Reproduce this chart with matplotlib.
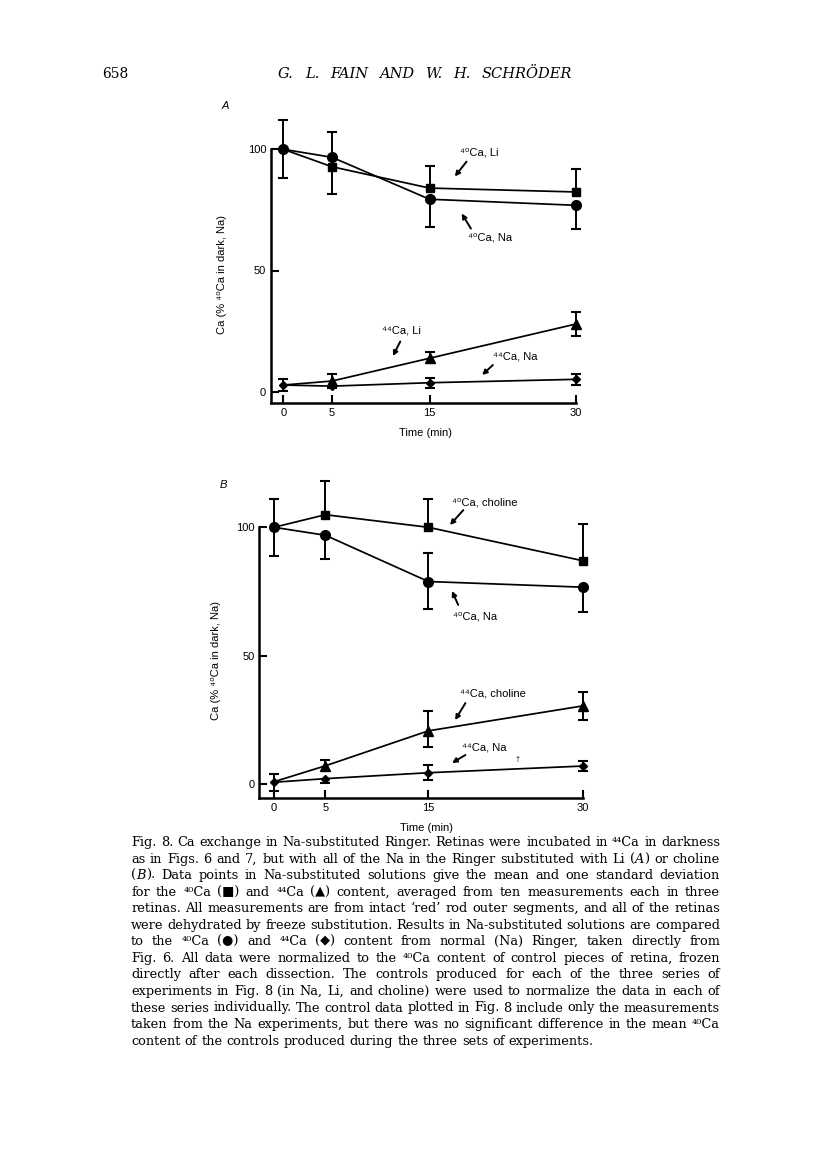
import matplotlib
matplotlib.use('Agg')
import matplotlib.pyplot as plt
import numpy as np

plt.rcParams['font.family'] = ['Liberation Sans', 'DejaVu Sans']

W, H = 816, 1160
SERIF = ['DejaVu Serif']
FS = 8.0

# time points (min)
t = [0, 5, 15, 30]

# panel A: Li substituted
a_ca40_na = [100, 96.7, 79.4, 76.9]
a_ca40_na_lo = [12, 0, 11.3, 9.9]
a_ca40_na_hi = [12, 10.5, 0, 0]
a_ca40_li = [100, 92.8, 84.0, 82.4]
a_ca40_li_lo = [0, 11.2, 0, 0]
a_ca40_li_hi = [0, 0, 9.0, 9.5]
a_ca44_li = [2.75, 4.4, 13.8, 27.9]
a_ca44_li_lo = [0, 0, 0, 4.9]
a_ca44_li_hi = [0, 2.8, 2.4, 5.1]
a_ca44_na = [2.75, 2.3, 3.7, 5.1]
a_ca44_na_lo = [2.3, 0.9, 2.0, 2.2]
a_ca44_na_hi = [2.3, 0, 2.0, 2.2]

# panel B: choline substituted
b_ca40_na = [100, 96.9, 78.9, 76.7]
b_ca40_na_lo = [11, 9.2, 10.8, 9.5]
b_ca40_na_hi = [11, 0, 11, 0]
b_ca40_ch = [100, 104.9, 100, 87.0]
b_ca40_ch_lo = [0, 0, 0, 0]
b_ca40_ch_hi = [0, 13.1, 10.9, 14.3]
b_ca44_ch = [1, 7.2, 20.8, 30.5]
b_ca44_ch_lo = [0, 0, 6.1, 5.5]
b_ca44_ch_hi = [0, 2.2, 7.7, 5.5]
b_ca44_na = [0.8, 2.2, 4.5, 7.1]
b_ca44_na_lo = [3.6, 1.7, 3.0, 2.0]
b_ca44_na_hi = [3.2, 0, 3.0, 2.0]

caption = [
    "Fig. 8. Ca exchange in Na-substituted Ringer. Retinas were incubated in \u2074\u2074Ca in darkness",
    "as in Figs. 6 and 7, but with all of the Na in the Ringer substituted with Li (*A*) or choline",
    "(*B*). Data points in Na-substituted solutions give the mean and one standard deviation",
    "for the \u2074\u2070Ca (\u25a0) and \u2074\u2074Ca (\u25b2) content, averaged from ten measurements each in three",
    "retinas. All measurements are from intact \u2018red\u2019 rod outer segments, and all of the retinas",
    "were dehydrated by freeze substitution. Results in Na-substituted solutions are compared",
    "to the \u2074\u2070Ca (\u25cf) and \u2074\u2074Ca (\u25c6) content from normal (Na) Ringer, taken directly from",
    "Fig. 6. All data were normalized to the \u2074\u2070Ca content of control pieces of retina, frozen",
    "directly after each dissection. The controls produced for each of the three series of",
    "experiments in Fig. 8 (in Na, Li, and choline) were used to normalize the data in each of",
    "these series individually. The control data plotted in Fig. 8 include only the measurements",
    "taken from the Na experiments, but there was no significant difference in the mean \u2074\u2070Ca",
    "content of the controls produced during the three sets of experiments.",
]

fig = plt.figure(figsize=(W / 100, H / 100), dpi=100)
r = fig.canvas.get_renderer()


def make_axes(x_t0, x_t30, y_v0, y_v100, xlim, ylim):
    sx = (x_t30 - x_t0) / 30.0
    sy = (y_v0 - y_v100) / 100.0
    left = x_t0 + sx * xlim[0]
    right = x_t0 + sx * xlim[1]
    bottom = y_v0 - sy * ylim[0]
    top = y_v0 - sy * ylim[1]
    ax = fig.add_axes([left / W, 1 - bottom / H, (right - left) / W, (bottom - top) / H])
    ax.set_xlim(xlim)
    ax.set_ylim(ylim)
    ax.patch.set_alpha(0)
    for s in ['top', 'right']:
        ax.spines[s].set_visible(False)
    ax.spines['left'].set_bounds(ylim[0], 100)
    ax.spines['bottom'].set_bounds(xlim[0], 30)
    for s in ['left', 'bottom']:
        ax.spines[s].set_linewidth(1.8)
    ax.set_xticks(t)
    ax.set_yticks([0, 50, 100])
    ax.tick_params(direction='in', length=6, width=1.5, labelsize=FS, pad=3.5)
    return ax


def series(ax, y, lo, hi, marker, ms, every):
    ax.plot(t, y, '-', color='k', lw=1.25, zorder=2)
    for i in range(len(t)):
        if lo[i] > 0 or hi[i] > 0:
            ax.vlines(t[i], y[i] - lo[i], y[i] + hi[i], color='k', lw=1.4, zorder=3)
        if lo[i] > 0:
            ax.plot(t[i], y[i] - lo[i], marker='_', ms=7, mew=1.5, color='k', zorder=3)
        if hi[i] > 0:
            ax.plot(t[i], y[i] + hi[i], marker='_', ms=7, mew=1.5, color='k', zorder=3)
    ax.plot(np.array(t)[every], np.array(y)[every], ls='none', marker=marker, ms=ms,
            color='k', zorder=4)


def arrow(ax, tail, head):
    ax.annotate('', xy=head, xytext=tail,
                arrowprops=dict(arrowstyle='-|>', color='k', lw=1.4, mutation_scale=7,
                                shrinkA=0, shrinkB=0))


def ftext(x, y, s, **kw):
    return fig.text(x / W, 1 - y / H, s, **kw)


# ---- panel A ----
ax = make_axes(283.3, 575.7, 391.7, 149.3, (-1.26, 31), (-4.6, 115))
series(ax, a_ca40_li, a_ca40_li_lo, a_ca40_li_hi, 's', 5.5, [1, 2, 3])
series(ax, a_ca40_na, a_ca40_na_lo, a_ca40_na_hi, 'o', 7, [0, 1, 2, 3])
series(ax, a_ca44_li, a_ca44_li_lo, a_ca44_li_hi, '^', 7.5, [1, 2, 3])
series(ax, a_ca44_na, a_ca44_na_lo, a_ca44_na_hi, 'D', 4.2, [0, 1, 2, 3])
ax.text(18.1, 98.6, '\u2074\u2070Ca, Li', fontsize=FS, va='center')
arrow(ax, (18.8, 94.9), (17.6, 88.8))
ax.text(18.9, 63.7, '\u2074\u2070Ca, Na', fontsize=FS, va='center')
arrow(ax, (19.25, 67.3), (18.3, 73.5))
ax.text(10.1, 25.4, '\u2074\u2074Ca, Li', fontsize=FS, va='center')
arrow(ax, (12.0, 20.7), (11.25, 14.7))
ax.text(21.5, 14.7, '\u2074\u2074Ca, Na', fontsize=FS, va='center')
arrow(ax, (21.5, 11.0), (20.4, 6.9))

ftext(222, 275, 'Ca (% \u2074\u2070Ca in dark, Na)', fontsize=FS, rotation=90, ha='center', va='center')
ftext(425, 433, 'Time (min)', fontsize=FS, ha='center', va='center')
ftext(225, 106, 'A', fontsize=8, style='italic', ha='center', va='center')

# ---- panel B ----
ax = make_axes(274.0, 582.7, 784.3, 527.3, (-1.43, 31), (-5.2, 120))
series(ax, b_ca40_ch, b_ca40_ch_lo, b_ca40_ch_hi, 's', 5.5, [1, 2, 3])
series(ax, b_ca40_na, b_ca40_na_lo, b_ca40_na_hi, 'o', 7, [0, 1, 2, 3])
series(ax, b_ca44_ch, b_ca44_ch_lo, b_ca44_ch_hi, '^', 7.5, [1, 2, 3])
series(ax, b_ca44_na, b_ca44_na_lo, b_ca44_na_hi, 'D', 4.2, [0, 1, 2, 3])
ax.text(17.3, 109.8, '\u2074\u2070Ca, choline', fontsize=FS, va='center')
arrow(ax, (18.4, 106.7), (17.1, 100.9))
ax.text(17.4, 65.1, '\u2074\u2070Ca, Na', fontsize=FS, va='center')
arrow(ax, (17.9, 69.8), (17.3, 75.2))
ax.text(18.1, 35.5, '\u2074\u2074Ca, choline', fontsize=FS, va='center')
arrow(ax, (18.6, 31.6), (17.6, 25.0))
ax.text(18.3, 14.5, '\u2074\u2074Ca, Na', fontsize=FS, va='center')
arrow(ax, (18.6, 11.4), (17.3, 8.3))
ax.text(23.7, 9.5, '\u2020', fontsize=5, va='center', ha='center')

ftext(216, 661, 'Ca (% \u2074\u2070Ca in dark, Na)', fontsize=FS, rotation=90, ha='center', va='center')
ftext(426, 828, 'Time (min)', fontsize=FS, ha='center', va='center')
ftext(223, 485, 'B', fontsize=8, style='italic', ha='center', va='center')


# ---- justified serif text ----
def measure(s, size, style):
    tt = fig.text(0, 0, s, fontsize=size, style=style, family=SERIF)
    w = tt.get_window_extent(r).width
    tt.remove()
    return w


def parts(word, base_italic):
    out = []
    for k, p in enumerate(word.split('*')):
        if p:
            it = (k % 2 == 1) != base_italic
            out.append((p, 'italic' if it else 'normal'))
    return out


def natural_width(line, size):
    words = [parts(w, False) for w in line.split()]
    total = sum(measure(s, size, st) for w in words for s, st in w)
    space = measure('x x', size, 'normal') - 2 * measure('x', size, 'normal')
    return total + space * (len(words) - 1)


def justify(lines, x0, x1, y0, dy, size, base_italic=False, ragged_last=True, min_gap=1.8):
    avail = x1 - x0
    for i, line in enumerate(lines):
        sz = size
        words = [parts(w, base_italic) for w in line.split()]
        widths = [[measure(s, sz, st) for s, st in w] for w in words]
        total = sum(sum(ws) for ws in widths)
        n = len(words)
        if total + min_gap * (n - 1) > avail:
            # line too long for this face: shrink it slightly to fit the column
            sz = size * (avail - min_gap * (n - 1)) / total
            widths = [[measure(s, sz, st) for s, st in w] for w in words]
            total = sum(sum(ws) for ws in widths)
        if (ragged_last and i == len(lines) - 1) or n == 1:
            gap = measure('x x', sz, 'normal') - 2 * measure('x', sz, 'normal')
        else:
            gap = (avail - total) / (n - 1)
        x = x0
        for w, ws in zip(words, widths):
            for (s, st), wd in zip(w, ws):
                ftext(x, y0 + i * dy, s, fontsize=sz, style=st, family=SERIF,
                      ha='left', va='baseline')
                x += wd
            x += gap


# header
ftext(102, 77.5, '658', fontsize=10, family=SERIF, ha='left', va='baseline')
justify(['G. L. FAIN AND W. H. SCHR\u00d6DER'], 278, 572, 77.5, 0, 10.5,
        base_italic=True, ragged_last=False)

# caption: size set so a typical line fills the column with normal spacing
cx0, cx1 = 131, 720
nat = sorted(natural_width(l, 10) for l in caption[:-1])
csize = 10 * (cx1 - cx0) * 0.98 / nat[len(nat) // 2]
justify(caption, cx0, cx1, 846, 16.55, csize)

fig.savefig('out.png', dpi=100)
